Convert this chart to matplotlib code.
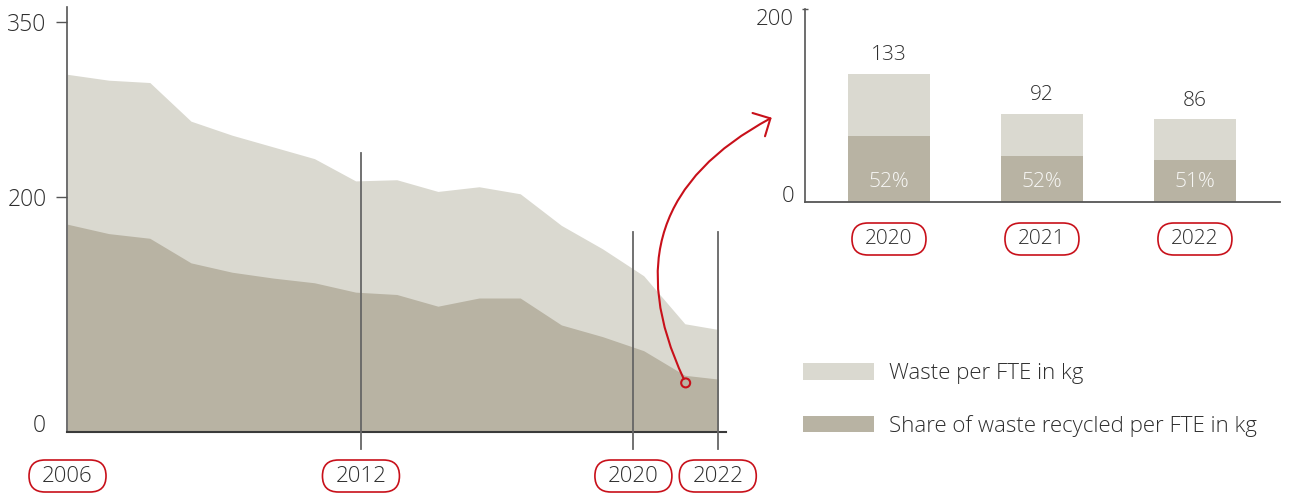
import numpy as np
import matplotlib
matplotlib.use("Agg")
import matplotlib.pyplot as plt
import matplotlib.transforms as mtransforms
from matplotlib.patches import FancyBboxPatch, FancyArrowPatch, Patch, Rectangle, Circle

plt.rcParams['font.family'] = ['Open Sans', 'DejaVu Sans']
plt.rcParams['font.weight'] = 'light'

# data
years = list(range(2006, 2023))
waste_per_fte = [305, 300, 298, 265, 253, 243, 233, 214, 215, 205, 209, 203, 176, 156, 133, 92, 86]
recycled_per_fte = [177, 169, 165, 144, 136, 131, 127, 119, 117, 107, 114, 114, 91, 81, 69, 48, 44]

marker_labels = ['2006', '2012', '2020', '2022']
marker_pos = [0, 7.13, 13.75, 15.8]      # where the year markers sit on the index axis
marker_tops = [None, 238, 170, 170]       # top of the grey guide lines

bar_years = ['2020', '2021', '2022']
bar_totals = [133, 92, 86]
bar_recycled = [69, 48, 44]
bar_shares = ['52%', '52%', '51%']

light = '#dad9d0'
dark = '#b8b3a3'
red = '#c8101a'
txt = '#2e2e2e'
axis_col = '#555555'

W, H = 1316, 495
fig = plt.figure(figsize=(W / 100, H / 100), dpi=100)

# ---- left area chart
ax = fig.add_axes([66.7 / W, (H - 431.5) / H, (726 - 66.7) / W, (431.5 - 7) / H])
x = np.arange(len(years))
clip = Rectangle((-1, -10), 16.8, 400, transform=ax.transData)
a1 = ax.fill_between(x, 0, waste_per_fte, color=light, lw=0)
a2 = ax.fill_between(x, 0, recycled_per_fte, color=dark, lw=0)
a1.set_clip_path(clip)
a2.set_clip_path(clip)
ax.set_xlim(-0.02, 16)
ax.set_ylim(0, 362.5)

for s in ['top', 'right']:
    ax.spines[s].set_visible(False)
ax.spines['left'].set_color(axis_col)
ax.spines['left'].set_linewidth(1.2)
ax.spines['bottom'].set_color('#3a3a3a')
ax.spines['bottom'].set_linewidth(1.5)
ax.set_xticks([])
ax.set_yticks([200, 350])
ax.tick_params(axis='y', length=8, width=1, color=axis_col, pad=6.5, labelsize=16.5, labelcolor=txt)
ax.text(0, 0, '0', transform=ax.get_yaxis_transform() + mtransforms.ScaledTranslation(-20.7 / 100, 0, fig.dpi_scale_trans),
        ha='right', va='baseline', fontsize=16.5, color=txt)

ymin_frac = -15 / 362.5
for pos, top in zip(marker_pos[1:], marker_tops[1:]):
    ax.axvline(pos, ymin=ymin_frac, ymax=top / 362.5, color='#666666', lw=1.3, clip_on=False, zorder=3)


def pill(axis, xpos, yfrac, label, w, h, size):
    cx, cy = axis.get_xaxis_transform().transform((xpos, yfrac))
    p = FancyBboxPatch((cx - w / 2, cy - h / 2), w, h, boxstyle='round,pad=0,rounding_size=%f' % (h / 2),
                       transform=mtransforms.IdentityTransform(), fc='white', ec=red, lw=1.2)
    fig.add_artist(p)
    fig.text(cx / W, cy / H, label, ha='center', va='center', fontsize=size, color=txt)


for lab, pos in zip(marker_labels, marker_pos):
    pill(ax, pos, -(476 - 431.5) / (431.5 - 7), lab, 77, 32, 16)

# ---- right bar chart
ax2 = fig.add_axes([805 / W, (H - 202.3) / H, (1280 - 805) / W, (202.3 - 9.3) / H])
bx = np.arange(len(bar_years))
ax2.bar(bx, bar_totals, width=0.533, color=light, lw=0)
ax2.bar(bx, bar_recycled, width=0.533, color=dark, lw=0)
ax2.set_xlim(-0.549, 2.556)
ax2.set_ylim(0, 200)
for s in ['top', 'right']:
    ax2.spines[s].set_visible(False)
ax2.spines['left'].set_color(axis_col)
ax2.spines['left'].set_linewidth(1.2)
ax2.spines['bottom'].set_color(axis_col)
ax2.spines['bottom'].set_linewidth(1.3)
ax2.set_xticks([])
ax2.set_yticks([200])
ax2.set_yticklabels([])
ax2.tick_params(axis='y', direction='inout', length=5, width=1, color=axis_col)
off2 = mtransforms.ScaledTranslation(-11 / 100, 0, fig.dpi_scale_trans)
ax2.text(0, 200, '200', transform=ax2.get_yaxis_transform() + off2, ha='right', va='top', fontsize=16, color=txt)
ax2.text(0, 0, '0', transform=ax2.get_yaxis_transform() + off2, ha='right', va='baseline', fontsize=16, color=txt)

for i in range(len(bar_years)):
    ax2.annotate(str(bar_totals[i]), (bx[i], bar_totals[i]), xytext=(0, 9.7), textcoords='offset points',
                 ha='center', va='baseline', fontsize=15, color=txt)
    ax2.annotate(bar_shares[i], (bx[i], 0), xytext=(0, 11.2), textcoords='offset points',
                 ha='center', va='baseline', fontsize=15, color='#f7f7f5')
    pill(ax2, bx[i], -(239 - 202.3) / (202.3 - 9.3), bar_years[i], 74, 32, 15)

# ---- red arrow from 2020-2022 area to the bars
start = ax.transData.transform((15.02, 41.5))
circ = Circle(start, 4.5, transform=mtransforms.IdentityTransform(), fc='none', ec=red, lw=1.5, zorder=5)
fig.add_artist(circ)
arr = FancyArrowPatch(start, (771.7, H - 117.7), transform=mtransforms.IdentityTransform(),
                      connectionstyle='arc3,rad=-0.48', arrowstyle='->,head_length=0.95,head_width=0.95',
                      mutation_scale=10, color=red, lw=1.5, shrinkA=3.3, shrinkB=0)
fig.add_artist(arr)

# ---- legend
handles = [Patch(color=light, lw=0), Patch(color=dark, lw=0)]
fig.legend(handles, ['Waste per FTE in kg', 'Share of waste recycled per FTE in kg'],
           loc='upper left', bbox_to_anchor=(802.7 / W, (H - 363) / H), frameon=False,
           fontsize=16, handlelength=3.2, handleheight=0.78, handletextpad=0.7,
           labelspacing=1.38, borderpad=0, borderaxespad=0, labelcolor=txt)

fig.savefig('out.png', dpi=100)
